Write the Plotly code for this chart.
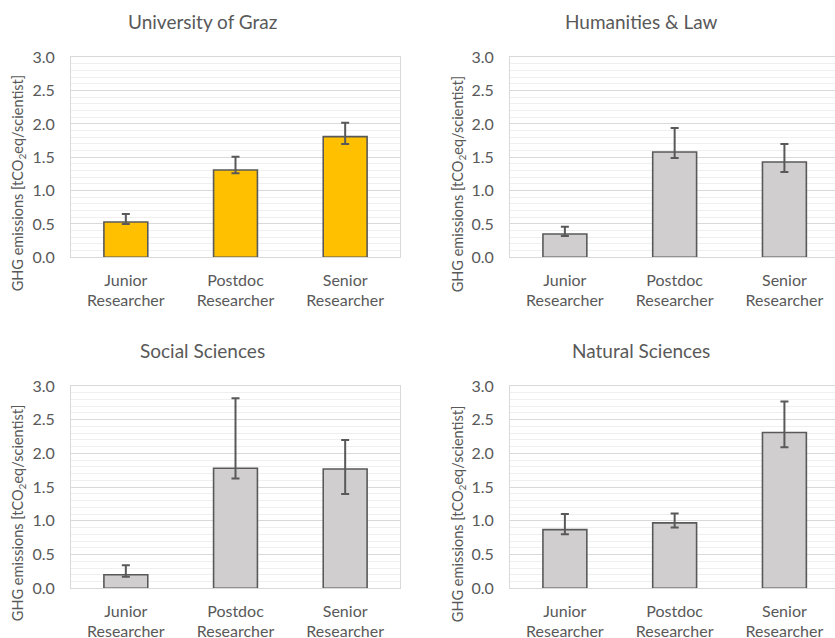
import plotly.graph_objects as go

# Career stages shown on every panel
categories = ["Junior<br>Researcher", "Postdoc<br>Researcher", "Senior<br>Researcher"]
panel_titles = ["University of Graz", "Humanities & Law", "Social Sciences", "Natural Sciences"]

# Mean GHG emissions per scientist (tCO2eq) and the error-bar bounds
uni_graz = [0.53, 1.31, 1.81]
uni_graz_hi = [0.65, 1.51, 2.02]
uni_graz_lo = [0.50, 1.26, 1.70]

humanities = [0.35, 1.58, 1.43]
humanities_hi = [0.46, 1.94, 1.70]
humanities_lo = [0.32, 1.49, 1.28]

social = [0.20, 1.78, 1.77]
social_hi = [0.34, 2.82, 2.20]
social_lo = [0.17, 1.63, 1.40]

natural = [0.87, 0.97, 2.31]
natural_hi = [1.10, 1.11, 2.77]
natural_lo = [0.80, 0.90, 2.09]

y_ticks = [0.0, 0.5, 1.0, 1.5, 2.0, 2.5, 3.0]

W, H = 835, 638
TEXT = "#595959"
FONT = "Lato"

panels = [
    (uni_graz, uni_graz_hi, uni_graz_lo, "#FFC000"),
    (humanities, humanities_hi, humanities_lo, "#D0CECE"),
    (social, social_hi, social_lo, "#D0CECE"),
    (natural, natural_hi, natural_lo, "#D0CECE"),
]

# pixel geometry of each plotting area: (left, right, top, bottom)
boxes = [
    (71, 400, 57.3, 257.3),
    (510, 839.3, 57.3, 257.3),
    (71, 400, 386, 588.3),
    (510, 839.3, 386, 588.3),
]
title_pos = [(202, 22), (641, 22), (202, 350), (641, 350)]
ytitle_x = [18, 458, 18, 458]

fig = go.Figure()
annotations = []

for i, ((vals, hi, lo, color), (l, r, t, b)) in enumerate(zip(panels, boxes)):
    n = i + 1
    xa = "x" if n == 1 else f"x{n}"
    ya = "y" if n == 1 else f"y{n}"
    fig.add_trace(go.Bar(
        x=list(range(len(categories))), y=vals, width=0.4,
        marker=dict(color=color, line=dict(color=TEXT, width=1.6)),
        error_y=dict(type="data", symmetric=False,
                     array=[h - v for h, v in zip(hi, vals)],
                     arrayminus=[v - lo_ for v, lo_ in zip(vals, lo)],
                     color=TEXT, thickness=2, width=4),
        xaxis=xa, yaxis=ya, showlegend=False, hoverinfo="skip",
    ))

    # a plot area running past the canvas edge is clipped: shorten its range instead
    r_vis = min(r, W)
    step = (r - l) / 3.0
    x_hi = -0.5 + (r_vis - l) / step

    xkey = "xaxis" if n == 1 else f"xaxis{n}"
    ykey = "yaxis" if n == 1 else f"yaxis{n}"
    fig.layout[xkey] = dict(
        domain=[l / W, r_vis / W], range=[-0.5, x_hi], anchor=ya,
        tickvals=list(range(len(categories))), ticktext=categories,
        showgrid=False, zeroline=False, automargin=False,
        showline=True, mirror=True, linecolor="#D9D9D9", linewidth=1,
        ticks="outside", ticklen=8, tickcolor="rgba(0,0,0,0)",
        tickfont=dict(family=FONT, size=16, color=TEXT), fixedrange=True,
    )
    fig.layout[ykey] = dict(
        domain=[1 - b / H, 1 - t / H], range=[0, 3.0], anchor=xa,
        tickvals=y_ticks, ticktext=[f"{v:.1f}" for v in y_ticks],
        showgrid=True, gridcolor="#D9D9D9", gridwidth=1,
        minor=dict(dtick=0.1, showgrid=True, gridcolor="#EFEFEF", gridwidth=1),
        zeroline=False, automargin=False,
        showline=True, mirror=True, linecolor="#D9D9D9", linewidth=1,
        ticks="outside", ticklen=12, tickcolor="rgba(0,0,0,0)",
        tickfont=dict(family=FONT, size=16, color=TEXT), fixedrange=True,
    )

    tx, ty = title_pos[i]
    annotations.append(dict(
        text=panel_titles[i], x=tx / W, y=1 - ty / H, xref="paper", yref="paper",
        xanchor="center", yanchor="middle", showarrow=False,
        font=dict(family=FONT, size=19, color=TEXT),
    ))
    annotations.append(dict(
        text="GHG emissions [tCO<sub>2</sub>eq/scientist]",
        x=ytitle_x[i] / W, y=1 - ((t + b) / 2 + 26) / H, xref="paper", yref="paper",
        xanchor="center", yanchor="middle", textangle=-90, showarrow=False,
        font=dict(family=FONT, size=14.5, color=TEXT),
    ))

fig.update_layout(
    width=W, height=H, margin=dict(l=0, r=0, t=0, b=0, autoexpand=False),
    paper_bgcolor="white", plot_bgcolor="white",
    annotations=annotations, bargap=0.6,
)

fig.write_html("out.html")
